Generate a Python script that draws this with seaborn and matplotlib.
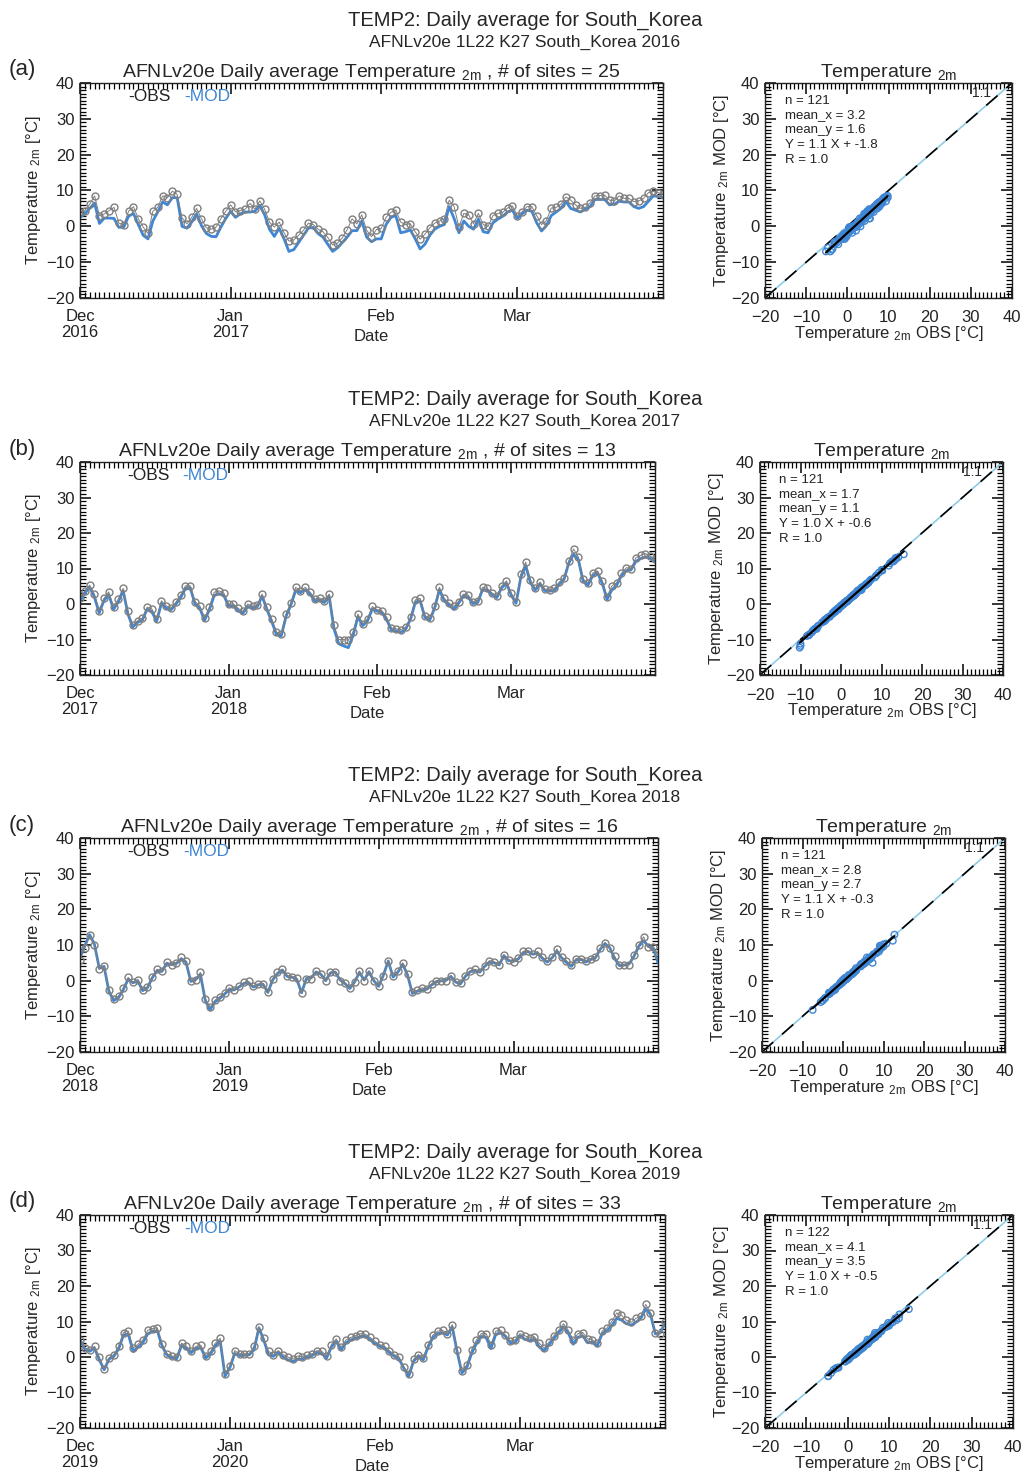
import numpy as np
import pandas as pd
import matplotlib
matplotlib.use("Agg")
import matplotlib.pyplot as plt
import matplotlib.dates as mdates
from matplotlib.ticker import MultipleLocator, FuncFormatter
import seaborn as sns

# ---------------- data ----------------
years = [2016, 2017, 2018, 2019]
panel_tags = ["(a)", "(b)", "(c)", "(d)"]
n_sites = [25, 13, 16, 33]
stats_lines = [
    ["n = 121", "mean_x = 3.2", "mean_y = 1.6", "Y = 1.1 X + -1.8", "R = 1.0"],
    ["n = 121", "mean_x = 1.7", "mean_y = 1.1", "Y = 1.0 X + -0.6", "R = 1.0"],
    ["n = 121", "mean_x = 2.8", "mean_y = 2.7", "Y = 1.1 X + -0.3", "R = 1.0"],
    ["n = 122", "mean_x = 4.1", "mean_y = 3.5", "Y = 1.0 X + -0.5", "R = 1.0"],
]

obs_2016 = [3.9, 4.4, 6.2, 8.5, 3.0, 3.5, 4.4, 5.3, 0.9, 0.5, 4.2, 5.5, 2.1, -0.2, -2.0, 4.2,
            5.3, 8.5, 8.0, 9.8, 8.9, 2.4, 0.7, 2.5, 5.0, 2.1, -0.4, -0.8, -0.2, 2.1, 4.2, 6.0,
            4.1, 4.4, 4.8, 6.4, 4.8, 7.1, 4.8, 1.2, -0.2, 1.2, -1.8, -4.1, -3.8, -2.5, -1.1, 0.9,
            0.5, -0.8, -1.5, -3.1, -5.2, -4.7, -3.2, -0.9, 2.1, 0.7, 3.2, -1.1, -2.9, -0.9, -0.6, 2.5,
            3.9, 4.6, 1.2, 0.5, 0.7, -1.5, -3.6, -2.2, -0.4, 0.9, 1.5, 2.1, 7.3, 5.5, -0.2, 3.6,
            3.2, 0.7, 3.6, 0.5, 0.0, 3.0, 3.6, 3.9, 5.1, 5.7, 3.0, 4.1, 5.5, 5.5, 3.0, 0.5,
            1.6, 5.1, 5.3, 6.2, 8.2, 7.3, 6.0, 5.0, 5.3, 6.6, 8.5, 8.6, 8.7, 7.3, 7.1, 8.5,
            7.8, 7.8, 6.9, 7.1, 7.8, 9.4, 9.8, 9.4, 8.9]
mod_2016 = [2.5, 3.5, 5.0, 6.5, 0.8, 2.3, 2.3, 2.2, -0.3, -0.2, 2.8, 3.6, 0.5, -2.5, -3.5, 1.5,
            4.0, 6.8, 6.0, 8.0, 8.0, 0.0, -0.5, 1.2, 3.5, 0.2, -2.0, -2.8, -2.9, -0.2, 2.2, 4.2,
            2.5, 3.5, 4.0, 4.0, 4.2, 5.8, 3.2, -0.8, -2.8, -0.5, -3.5, -7.0, -6.5, -4.5, -2.5, -0.5,
            -0.3, -2.0, -3.0, -5.0, -7.0, -6.0, -4.5, -3.0, -1.2, -1.2, 1.5, -3.0, -4.3, -3.5, -3.5, 0.5,
            2.5, 3.0, -1.8, -1.5, -1.0, -3.5, -6.3, -5.0, -2.5, -0.8, 0.0, 0.5, 5.5, 2.2, -1.8, 1.5,
            0.0, -0.8, 2.0, -1.5, -1.8, 1.0, 2.0, 2.8, 4.0, 4.5, 2.2, 3.5, 4.5, 4.2, 1.0, -1.3,
            0.2, 3.0, 4.0, 5.0, 7.0, 5.0, 4.5, 4.0, 4.8, 5.5, 7.5, 7.5, 7.5, 6.0, 6.2, 7.0,
            6.8, 6.8, 5.5, 5.0, 5.5, 7.0, 8.5, 8.3, 8.0]

obs_2017 = [1.6, 3.7, 5.3, 2.8, -1.9, 1.6, 3.4, -0.9, 1.4, 4.4, -2.1, -5.9, -4.7, -4.0, -0.9, -1.4,
            -4.2, 0.9, -0.5, -1.2, 0.5, 2.5, 5.1, 5.1, 0.7, -0.5, -4.0, -0.9, 3.3, 3.7, 3.1, 0.0,
            0.0, -1.2, -2.1, 0.0, -0.7, -0.3, 2.8, -0.9, -4.2, -7.9, -8.4, -2.8, 0.3, 4.7, 3.7, 4.7,
            3.4, 1.4, 1.7, 0.9, 2.8, -6.0, -10.0, -10.0, -10.2, -7.9, -2.8, -5.6, -4.2, -0.7, -1.6, -1.9,
            -3.7, -6.8, -7.0, -7.2, -6.5, -3.7, 1.2, 1.6, -3.3, -4.0, -0.7, 4.7, 1.6, 0.3, -0.7, 0.7,
            2.8, 2.5, 0.7, 0.9, 4.7, 4.4, 3.1, 2.3, 5.1, 6.5, 3.1, 0.7, 8.4, 11.8, 6.8, 4.4,
            6.2, 4.2, 4.0, 4.4, 6.2, 7.4, 12.1, 15.5, 13.3, 7.0, 6.0, 8.7, 9.3, 6.5, 2.1, 5.1,
            6.0, 8.7, 10.2, 10.0, 13.0, 13.7, 14.2, 13.5, 12.6]
mod_2017 = [0.8, 3.0, 4.8, 2.0, -2.5, 1.0, 2.6, -1.5, 0.6, 3.8, -2.8, -6.5, -5.2, -4.6, -1.5, -2.2,
            -4.8, 0.2, -1.2, -1.6, -0.1, 1.8, 4.4, 4.6, 0.0, -1.2, -4.6, -1.6, 2.4, 2.9, 2.5, -0.6,
            -0.4, -1.9, -2.6, -0.7, -1.2, -0.8, 2.2, -1.5, -4.9, -8.6, -9.0, -3.5, -0.3, 3.8, 3.2, 4.0,
            2.8, 0.9, 1.1, 0.4, 2.2, -7.0, -11.2, -11.8, -12.3, -8.8, -3.6, -6.1, -4.8, -1.4, -2.0, -2.4,
            -4.4, -7.4, -7.6, -8.0, -7.0, -4.2, 0.6, 0.8, -3.8, -4.5, -1.2, 4.0, 1.0, -0.3, -1.5, 0.2,
            2.2, 1.9, 0.1, 0.4, 4.0, 3.9, 2.6, 1.8, 4.6, 5.8, 2.5, 0.2, 7.5, 10.8, 6.0, 3.9,
            5.6, 3.8, 3.6, 3.8, 5.5, 6.9, 11.5, 14.0, 12.5, 6.4, 5.3, 8.0, 8.8, 5.8, 1.3, 4.0,
            5.3, 8.0, 9.4, 9.6, 12.0, 12.8, 13.2, 13.0, 12.0]

obs_2018 = [5.9, 9.1, 12.7, 10.0, 3.2, 4.1, -2.7, -5.0, -4.4, -2.0, 0.9, -0.5, 0.2, -2.5, -1.8, 1.1,
            3.2, 2.7, 5.2, 4.4, 5.0, 6.5, 5.5, 0.0, 0.2, 2.3, -5.0, -7.5, -5.5, -4.5, -3.5, -2.0,
            -2.5, -1.6, -0.5, -0.2, -1.6, -0.9, -0.9, -3.2, 0.5, 2.3, 3.2, 1.4, 1.1, 0.7, -3.5, 0.5,
            0.5, 2.7, 2.0, 0.0, 2.3, 2.5, 0.0, -0.7, -2.0, -0.5, 2.7, 0.0, 2.7, 0.0, -1.4, 1.4,
            5.6, 1.4, 2.7, 5.0, 1.8, -3.2, -2.7, -2.0, -2.3, -0.9, 0.0, 0.0, 0.0, 1.4, -0.5, -0.7,
            1.4, 2.7, 3.2, 2.5, 4.1, 5.6, 5.3, 4.5, 7.3, 5.9, 5.3, 6.4, 8.2, 8.4, 7.5, 8.2,
            6.5, 5.5, 6.5, 8.9, 6.5, 5.6, 4.4, 6.2, 6.2, 5.6, 6.2, 6.5, 9.1, 10.7, 9.1, 6.8,
            4.5, 4.5, 4.5, 7.1, 10.0, 12.3, 9.3, 9.5, 7.3]
mod_2018 = [6.5, 9.8, 12.9, 10.2, 3.5, 4.0, -3.0, -5.6, -4.8, -2.5, 0.4, -0.6, 0.0, -2.8, -2.0, 0.8,
            2.8, 2.6, 4.8, 4.5, 4.8, 6.0, 5.2, -0.2, 0.3, 1.8, -5.5, -8.2, -6.0, -5.0, -3.8, -2.5,
            -2.6, -1.8, -0.8, -0.6, -1.8, -1.2, -1.0, -3.3, 0.2, 2.0, 3.0, 1.2, 1.0, 0.4, -3.4, 0.6,
            0.8, 2.4, 1.8, 0.0, 2.2, 2.4, 0.2, -0.8, -2.2, -0.4, 2.3, 0.2, 2.5, 0.0, -1.6, 1.6,
            5.5, 1.0, 2.4, 4.6, 1.6, -3.6, -3.0, -2.6, -2.4, -1.2, -0.3, 0.0, 0.1, 1.2, -0.4, -0.9,
            1.2, 2.5, 2.9, 2.4, 4.0, 5.2, 5.0, 4.4, 7.0, 5.6, 5.4, 6.1, 7.8, 8.2, 7.4, 7.7,
            6.3, 5.2, 6.4, 8.2, 6.4, 5.1, 4.0, 5.8, 6.0, 5.2, 5.9, 6.4, 8.8, 10.4, 9.2, 6.2,
            4.2, 4.4, 4.7, 6.8, 9.6, 11.2, 9.6, 9.2, 5.0]

obs_2019 = [4.8, 2.5, 2.1, 3.0, 0.0, -3.4, -0.2, 0.7, 3.0, 6.9, 7.3, 2.5, 3.6, 4.8, 7.5, 8.0,
            8.2, 3.6, 0.9, 0.3, 0.0, 3.9, 3.0, 1.8, 3.0, 3.3, 0.3, 1.6, 3.9, 5.3, -4.7, -2.5,
            1.8, 0.9, 0.9, 0.9, 3.0, 8.5, 5.3, 1.6, 0.7, 1.8, 0.7, 0.0, -0.6, 0.3, 0.0, 0.5,
            0.9, 1.8, 1.6, 0.3, 3.5, 5.1, 2.7, 4.8, 5.5, 6.0, 6.6, 6.4, 5.5, 4.4, 3.5, 3.0,
            1.8, 0.7, 0.0, -2.9, -4.7, -0.6, 0.7, -0.2, 3.5, 6.2, 7.3, 7.5, 6.6, 9.1, 2.1, -4.0,
            -2.2, 2.1, 4.8, 6.6, 6.6, 3.5, 7.3, 7.5, 6.2, 4.5, 4.8, 6.6, 6.0, 5.3, 5.7, 3.9,
            2.5, 4.2, 6.0, 7.5, 9.4, 7.5, 4.8, 6.6, 6.9, 5.1, 4.8, 3.9, 7.3, 8.2, 10.0, 12.4,
            11.8, 10.3, 9.8, 10.9, 11.5, 14.8, 12.5, 6.9, 6.6, 9.8]
mod_2019 = [4.9, 2.2, 1.6, 2.5, -0.8, -3.6, -0.6, 0.2, 2.3, 6.2, 6.4, 1.5, 2.8, 4.0, 6.5, 7.2,
            7.4, 3.0, 0.5, -0.2, -0.5, 3.3, 2.4, 1.2, 2.4, 2.6, -0.3, 0.8, 3.2, 4.5, -5.4, -3.0,
            1.0, 0.4, 0.5, 0.6, 2.0, 8.2, 4.8, 0.6, 0.2, 1.3, 0.0, -0.8, -1.3, -0.6, -0.6, 0.0,
            0.4, 1.3, 1.0, -0.3, 2.8, 4.4, 2.0, 4.0, 4.8, 5.3, 5.8, 5.8, 4.9, 3.8, 3.0, 2.5,
            1.2, 0.2, -0.6, -3.2, -5.4, -1.2, 0.2, -0.8, 2.8, 5.5, 6.6, 6.8, 6.2, 8.5, 1.5, -4.5,
            -3.0, 1.0, 3.8, 5.8, 5.5, 2.4, 6.4, 6.8, 5.8, 4.0, 4.1, 6.0, 5.0, 4.6, 5.0, 2.8,
            1.8, 3.4, 5.2, 6.8, 8.5, 6.8, 3.6, 5.6, 5.9, 4.0, 4.2, 3.1, 6.6, 7.4, 8.8, 10.9,
            10.4, 9.4, 9.0, 9.8, 10.9, 13.5, 12.0, 6.5, 6.8, 9.6]

obs_series = [obs_2016, obs_2017, obs_2018, obs_2019]
mod_series = [mod_2016, mod_2017, mod_2018, mod_2019]

# ---------------- style ----------------
sns.set_theme(style="ticks")
plt.rcParams["font.family"] = ["Liberation Sans", "DejaVu Sans"]
plt.rcParams["mathtext.fontset"] = "custom"
plt.rcParams["mathtext.rm"] = "Liberation Sans"
plt.rcParams["mathtext.it"] = "Liberation Sans"
plt.rcParams["axes.edgecolor"] = "#222222"
plt.rcParams["axes.linewidth"] = 1.0

BLUE = "#3f86d4"
GREY = "#7f7f7f"
SUB = r"$_{\mathrm{2m}}$"

W, H = 1024, 1476


def rect(l, t, r, b):
    return [l / W, 1 - b / H, (r - l) / W, (b - t) / H]


tops = [83, 462, 838, 1215]
bots = [298, 675, 1052, 1428]
ts_right = [663, 655, 658, 665]
sc_left = [765, 760, 762, 765]
sc_right = [1012, 1003, 1005, 1013]


def month_fmt(x, pos):
    d = mdates.num2date(x)
    if d.month in (12, 1):
        return d.strftime("%b\n%Y")
    return d.strftime("%b")


def style_ticks(a, xpad=8):
    a.tick_params(which="both", direction="in", top=True, right=True, labelsize=12,
                  color="black", labelcolor="#222222")
    a.tick_params(which="major", length=8, width=1.1)
    a.tick_params(which="minor", length=4, width=0.9)
    a.tick_params(axis="x", which="both", pad=xpad)
    a.tick_params(axis="y", which="both", pad=4)


fig = plt.figure(figsize=(10.24, 14.76), dpi=100)

for i in range(4):
    obs = np.array(obs_series[i])
    mod = np.array(mod_series[i])
    dates = pd.date_range(f"{years[i]}-12-01", periods=len(obs), freq="D")
    df = pd.DataFrame({"date": dates, "OBS": obs, "MOD": mod})

    top, bot = tops[i], bots[i]
    shift = (top - 83) / H

    # headings
    fig.text(525 / W, 1 - 20 / H - shift, "TEMP2: Daily average for South_Korea",
             ha="center", va="center", fontsize=14.5)
    fig.text(525 / W, 1 - 42 / H - shift,
             f"AFNLv20e 1L22 K27 South_Korea {years[i]}",
             ha="center", va="center", fontsize=12.5)
    fig.text(22 / W, 1 - (top - 13) / H, panel_tags[i], ha="center", va="center", fontsize=16)

    # ---- time series ----
    ax = fig.add_axes(rect(80, top, ts_right[i], bot))
    sns.lineplot(data=df, x="date", y="MOD", color=BLUE, lw=2.0, ax=ax)
    sns.lineplot(data=df, x="date", y="OBS", color=GREY, lw=0.7, marker="o", markersize=5,
                 markerfacecolor="none", markeredgecolor=GREY, markeredgewidth=1.0, ax=ax)
    ax.set_xlim(dates[0], dates[-1])
    ax.set_ylim(-20, 40)
    ax.yaxis.set_major_locator(MultipleLocator(10))
    ax.yaxis.set_minor_locator(MultipleLocator(1))
    ax.xaxis.set_major_locator(mdates.MonthLocator())
    ax.xaxis.set_minor_locator(mdates.DayLocator())
    ax.xaxis.set_major_formatter(FuncFormatter(month_fmt))
    style_ticks(ax)
    for lab in ax.get_xticklabels():
        lab.set_linespacing(1.05)
    ax.set_title(f"AFNLv20e Daily average Temperature {SUB} , # of sites = {n_sites[i]}",
                 fontsize=14, pad=4)
    ax.set_ylabel(f"Temperature {SUB} [°C]", fontsize=12, labelpad=2)
    ax.set_xlabel("Date", fontsize=12, va="top")
    ax.xaxis.set_label_coords(0.5, -0.145)
    ax.text(0.082, 0.935, "-OBS", transform=ax.transAxes, fontsize=12.5, color="#222222",
            va="center")
    ax.text(0.178, 0.935, "-MOD", transform=ax.transAxes, fontsize=12.5, color=BLUE,
            va="center")

    # ---- scatter ----
    sx = fig.add_axes(rect(sc_left[i], top, sc_right[i], bot))
    sx.axline((0, 0), slope=1, color="#8fcbe6", lw=1.2, zorder=1)
    sx.axline((0, 0), slope=1, color="black", lw=1.2, dashes=(9, 7), zorder=2)
    sns.scatterplot(x=obs, y=mod, marker="o", s=22, facecolors="none", edgecolor=BLUE,
                    linewidth=1.0, ax=sx, zorder=3)
    sns.regplot(x=obs, y=mod, scatter=False, ci=None, color="black",
                line_kws=dict(lw=1.6, zorder=4), ax=sx)
    sx.set_xlim(-20, 40)
    sx.set_ylim(-20, 40)
    for axis in (sx.xaxis, sx.yaxis):
        axis.set_major_locator(MultipleLocator(10))
        axis.set_minor_locator(MultipleLocator(1))
    style_ticks(sx, xpad=9)
    sx.set_title(f"Temperature {SUB}", fontsize=14, pad=4)
    sx.set_xlabel(f"Temperature {SUB} OBS [°C]", fontsize=12, labelpad=-1)
    sx.set_ylabel(f"Temperature {SUB} MOD [°C]", fontsize=12, labelpad=0)
    sx.text(0.08, 0.945, "\n".join(stats_lines[i]), transform=sx.transAxes, fontsize=9.5,
            va="top", ha="left", linespacing=1.3, color="#222222")
    sx.text(0.875, 0.955, "1:1", transform=sx.transAxes, fontsize=10, va="center",
            ha="center")

fig.savefig("out.png", dpi=100)
